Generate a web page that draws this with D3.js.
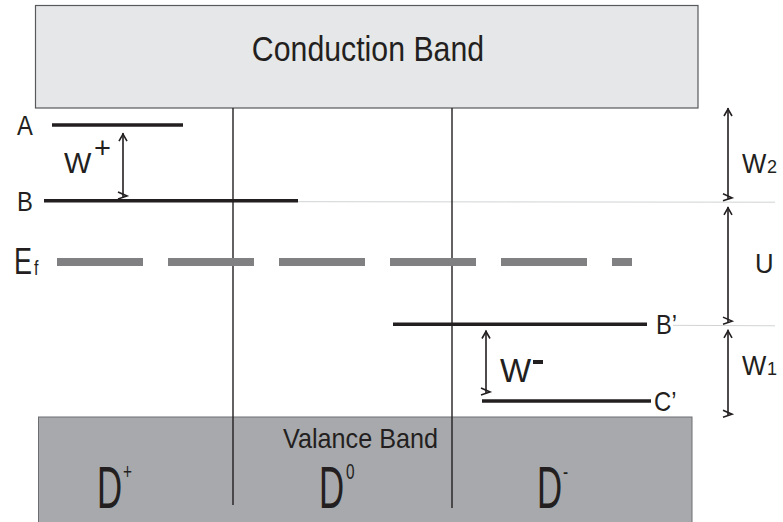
<!DOCTYPE html>
<html>
<head>
<meta charset="utf-8">
<script src="https://cdn.jsdelivr.net/npm/d3@7"></script>
<style>
  body { margin: 0; background: #fff; }
  svg text { font-family: "Liberation Sans", Arial, sans-serif; fill: #231f20; }
</style>
</head>
<body>
<svg id="chart"></svg>
<script>
// energy axis: 0 = valence band edge, 100 = conduction band edge (arbitrary units)
const levelNames   = ["A", "B", "B\u2019", "C\u2019"];
const levelEnergy  = [94.5, 70, 30, 5.2];
const fermiEnergy  = 50.2;
const defectLabels = ["D", "D", "D"];
const defectSups   = ["+", "0", "-"];
const gapArrows    = [[100, 70.6], [68, 30.7], [28.2, 0.6]]; // W2, U, W1
const gapLabels    = ["W", "U", "W"];
const gapSubs      = ["2", "", "1"];
const innerArrows  = [[91.9, 71.2], [28, 7.8]]; // W+, W-

const [w, h] = [783, 522];
const svg = d3.select("#chart").attr("width", w).attr("height", h);

const yScale = d3.scaleLinear().domain([0, 100]).range([417, 108]);
const xScale = d3.scaleLinear().domain([0, 783]).range([0, 783]);

// extents of each level line (pixels)
const levelX = [[52, 183], [44, 298], [393, 647], [482, 651]];
const dividerX = [233, 452];

// condensed text helper
function ctext(x, y, size, sx, str, anchor) {
  const g = svg.append("g").attr("transform", `translate(${x},${y}) scale(${sx},1)`);
  return g.append("text").attr("font-size", size).attr("text-anchor", anchor || "start").text(str);
}

// bands
svg.append("rect").attr("x", xScale(35.5)).attr("y", 5.5)
  .attr("width", xScale(698) - xScale(35.5)).attr("height", yScale(100) - 5.5)
  .attr("fill", "#e6e7e8").attr("stroke", "#58595b").attr("stroke-width", 1.2);
ctext(368, 61, 35, 0.865, "Conduction Band", "middle");

svg.append("rect").attr("x", xScale(38.5)).attr("y", yScale(0))
  .attr("width", xScale(692) - xScale(38.5)).attr("height", h - yScale(0) + 5)
  .attr("fill", "#a7a9ac").attr("stroke", "#6d6e71").attr("stroke-width", 1);
ctext(360.5, 448, 28, 0.9, "Valance Band", "middle");

// thin grey guide lines to the right arrows
const guideStart = [298, 673];
svg.selectAll("line.guide").data([70, 30]).enter().append("line")
  .attr("class", "guide")
  .attr("x1", (d, i) => xScale(guideStart[i])).attr("x2", 775)
  .attr("y1", d => yScale(d) + 1).attr("y2", d => yScale(d) + 1.5)
  .attr("stroke", "#d1d3d4").attr("stroke-width", 1);

// vertical dividers
svg.selectAll("line.div").data(dividerX).enter().append("line")
  .attr("x1", d => xScale(d)).attr("x2", d => xScale(d))
  .attr("y1", yScale(100)).attr("y2", (d, i) => i === 0 ? 505 : 508)
  .attr("stroke", "#231f20").attr("stroke-width", 1.4);

// Fermi level
svg.append("line").attr("x1", 57).attr("x2", 632)
  .attr("y1", yScale(fermiEnergy)).attr("y2", yScale(fermiEnergy))
  .attr("stroke", "#808083").attr("stroke-width", 8)
  .attr("stroke-dasharray", "86 25");
ctext(14, 274, 36, 0.75, "E");
ctext(34, 275, 20, 0.8, "f");

// defect levels
svg.selectAll("line.level").data(levelEnergy).enter().append("line")
  .attr("x1", (d, i) => xScale(levelX[i][0])).attr("x2", (d, i) => xScale(levelX[i][1]))
  .attr("y1", d => yScale(d)).attr("y2", d => yScale(d))
  .attr("stroke", "#231f20").attr("stroke-width", 3.5);

const labelX = [17, 17, 656, 654];
levelNames.forEach((t, i) => {
  ctext(labelX[i], yScale(levelEnergy[i]) + 10, 28, 0.85, t);
});

// arrows
function arrow(x, e0, e1) {
  const y0 = yScale(e0), y1 = yScale(e1);
  const g = svg.append("g").attr("fill", "none").attr("stroke", "#231f20").attr("stroke-width", 1.6);
  g.append("line").attr("x1", x).attr("x2", x).attr("y1", y0).attr("y2", y1);
  g.append("path").attr("d", `M${x - 4},${y0 + 8}L${x},${y0 + 1}L${x + 4},${y0 + 8}`);
  g.append("path").attr("d", `M${x - 5},${y1 - 5}L${x + 4},${y1 - 1}L${x - 5},${y1 + 2}`);
}
gapArrows.forEach(a => arrow(728, a[0], a[1]));
arrow(123, innerArrows[0][0], innerArrows[0][1]);
arrow(486, innerArrows[1][0], innerArrows[1][1]);

const gapLabelY = [173, 273, 375];
const gapLabelX = [742, 755, 742];
gapLabels.forEach((t, i) => {
  ctext(gapLabelX[i], gapLabelY[i], 28, 0.92, t);
  if (gapSubs[i]) ctext(767, gapLabelY[i], 19, 0.95, gapSubs[i]);
});

// W+ and W-
ctext(64, 173, 29, 1.0, "W");
ctext(94, 158, 29, 1.0, "+");
ctext(500, 382, 33, 1.0, "W");
svg.append("rect").attr("x", 533).attr("y", 360).attr("width", 10).attr("height", 4).attr("fill", "#231f20");

// D+, D0, D-
const dX = [97, 319, 537];
const supX = [123, 346, 563];
defectLabels.forEach((t, i) => {
  ctext(dX[i], 508, 60, 0.58, t);
  ctext(supX[i], 479, 22, 0.7, defectSups[i]);
});
</script>
</body>
</html>
